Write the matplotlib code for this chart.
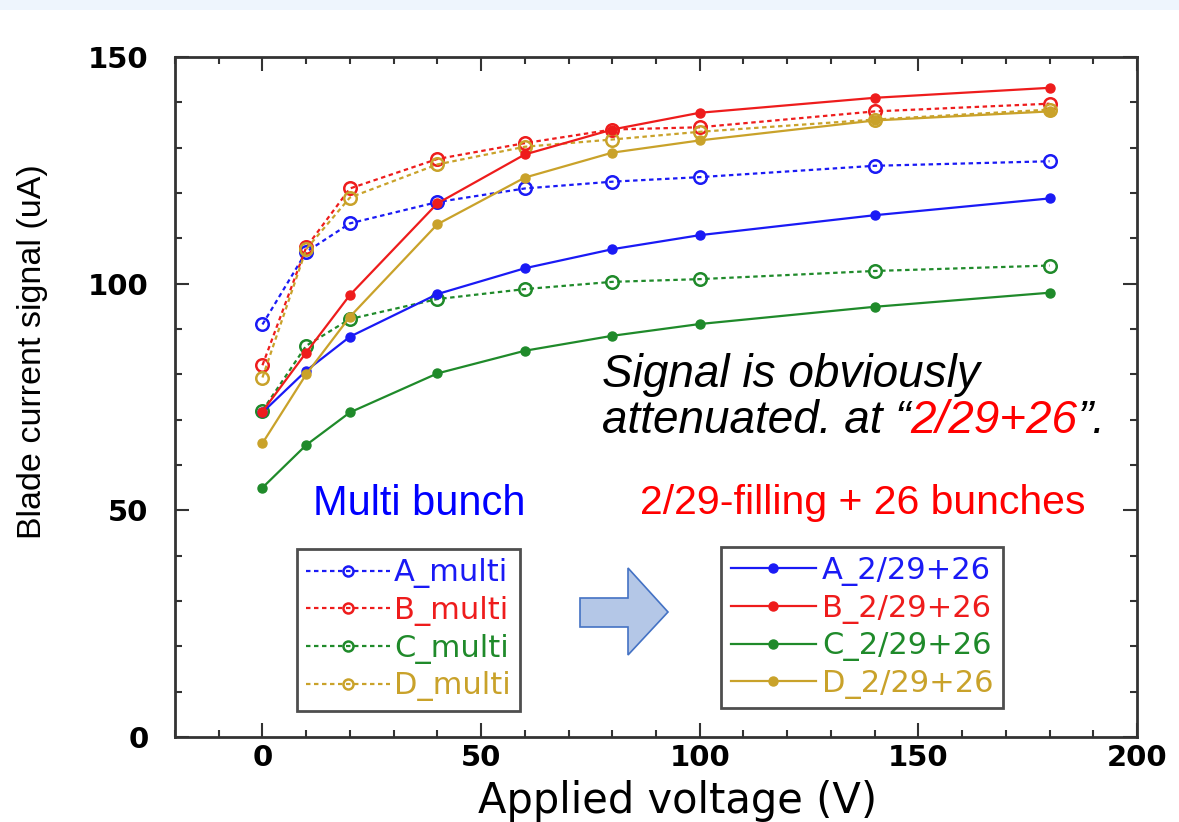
import matplotlib
matplotlib.use("Agg")
import matplotlib.pyplot as plt
import matplotlib.patches as mpatches
from matplotlib.ticker import MultipleLocator

plt.rcParams['font.family'] = ['DejaVu Sans']

# data
voltage = [0, 10, 20, 40, 60, 80, 100, 140, 180]

a_multi = [91, 107, 113.3, 118, 121, 122.5, 123.5, 126, 127]
b_multi = [82, 108, 121, 127.5, 131, 134, 134.5, 138, 139.7]
c_multi = [72, 86.3, 92.2, 96.6, 98.8, 100.4, 101, 102.8, 104]
d_multi = [79.3, 107.6, 119, 126.3, 130.2, 131.8, 133.5, 136.2, 138.4]

a_226 = [71.6, 80.8, 88.3, 97.7, 103.4, 107.6, 110.7, 115.1, 118.8]
b_226 = [71.8, 84.8, 97.5, 117.7, 128.5, 134, 137.7, 141, 143.2]
c_226 = [55, 64.4, 71.6, 80.2, 85.2, 88.5, 91.1, 94.9, 98]
d_226 = [64.8, 80, 92.7, 113.1, 123.4, 128.9, 131.6, 136, 138]

names = ['A', 'B', 'C', 'D']
colors = ['#1a1af5', '#ee1c1c', '#1f8a2a', '#c9a22a']

W, H = 1179, 822
fig = plt.figure(figsize=(W / 100, H / 100), dpi=100)

# light band at the top of the slide
fig.patches.append(mpatches.Rectangle((0, 1 - 10 / H), 1, 10 / H, transform=fig.transFigure,
                                      facecolor='#eef5fd', edgecolor='none', zorder=0))

ax = fig.add_axes([175 / W, 1 - 737 / H, 962 / W, 680 / H])

multi_lines = []
for nm, ys, c in zip(names, [a_multi, b_multi, c_multi, d_multi], colors):
    ln, = ax.plot(voltage, ys, linestyle=(0, (2, 1.6)), color=c, lw=1.6, marker='o',
                  markersize=9, markerfacecolor='none', markeredgewidth=1.8,
                  label=f'{nm}_multi')
    multi_lines.append(ln)

bunch_lines = []
for nm, ys, c in zip(names, [a_226, b_226, c_226, d_226], colors):
    ln, = ax.plot(voltage, ys, linestyle='-', color=c, lw=1.6, marker='o',
                  markersize=6.5, label=f'{nm}_2/29+26')
    bunch_lines.append(ln)

ax.set_xlim(-20, 200)
ax.set_ylim(0, 150)
ax.xaxis.set_major_locator(MultipleLocator(50))
ax.xaxis.set_minor_locator(MultipleLocator(10))
ax.yaxis.set_major_locator(MultipleLocator(50))
ax.yaxis.set_minor_locator(MultipleLocator(10))
ax.tick_params(which='both', direction='in', top=True, right=True, width=1.5, color='#333333')
ax.tick_params(which='major', length=10, labelsize=21)
ax.tick_params(axis='x', which='major', pad=5)
ax.tick_params(axis='y', which='major', pad=19)
ax.tick_params(which='minor', length=5)
plt.setp(ax.get_xticklabels() + ax.get_yticklabels(), fontweight='bold')
for s in ax.spines.values():
    s.set_linewidth(2)
    s.set_color('#333333')

ax.set_xlabel('Applied voltage (V)', fontsize=30, labelpad=6)
ax.xaxis.label.set_x(0.522)
ax.set_ylabel('Blade current signal (uA)', fontsize=24.5, family=['Liberation Sans'])
ax.yaxis.set_label_coords(-0.132, 0.567)

# legends
leg_kw = dict(loc='upper left', borderaxespad=0, fontsize=22, labelspacing=0.25,
              frameon=True, fancybox=False, edgecolor='#222222', borderpad=0.3)
leg1 = ax.legend(handles=multi_lines, bbox_to_anchor=(0.127, 0.276),
                 handlelength=2.75, handletextpad=0.12, markerscale=0.8, **leg_kw)
leg1.get_frame().set_linewidth(2)
for t, c in zip(leg1.get_texts(), colors):
    t.set_color(c)
ax.add_artist(leg1)

leg2 = ax.legend(handles=bunch_lines, bbox_to_anchor=(0.568, 0.2795),
                 handlelength=2.78, handletextpad=0.22, **leg_kw)
leg2.get_frame().set_linewidth(2)
for t, c in zip(leg2.get_texts(), colors):
    t.set_color(c)

# annotations
ax.text(0.1435, 0.3265, 'Multi bunch', transform=ax.transAxes, color='#0000ff',
        fontsize=30, va='baseline', ha='left', family=['Liberation Sans'])
ax.text(0.4834, 0.328, '2/29-filling + 26 bunches', transform=ax.transAxes, color='#ff0000',
        fontsize=29.5, va='baseline', ha='left', family=['Liberation Sans'])
ax.text(0.4439, 0.5154, 'Signal is obviously', transform=ax.transAxes, color='black',
        fontsize=33, style='italic', va='baseline', ha='left', family=['Liberation Sans'])
t1 = ax.text(0.4439, 0.4466, 'attenuated. at \u201c', transform=ax.transAxes, color='black',
             fontsize=33, style='italic', va='baseline', ha='left', family=['Liberation Sans'])
t2 = ax.annotate('2/29+26', xy=(1, 0), xycoords=t1, color='#ff0000', fontsize=33,
                 style='italic', va='bottom', ha='left', family=['Liberation Sans'])
ax.annotate('\u201d.', xy=(1, 0), xycoords=t2, color='black', fontsize=33,
            style='italic', va='bottom', ha='left', family=['Liberation Sans'])

# block arrow between the legends
pts = [(580, 598), (628, 598), (628, 568), (668, 612), (628, 655), (628, 627), (580, 627)]
arrow = mpatches.Polygon([(x / W, 1 - y / H) for x, y in pts], closed=True,
                         transform=fig.transFigure, facecolor='#b4c7e7',
                         edgecolor='#4472c4', linewidth=1.2)
fig.patches.append(arrow)

fig.savefig('out.png', dpi=100)
